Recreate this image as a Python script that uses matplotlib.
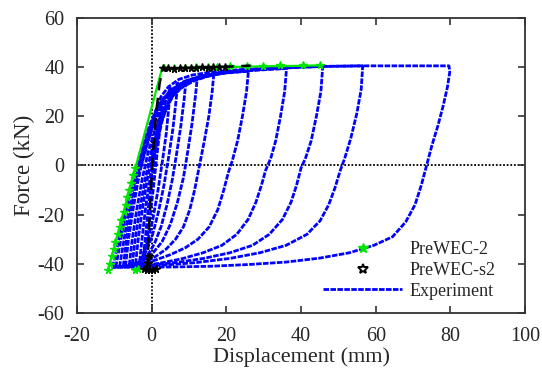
import matplotlib
matplotlib.use("Agg")
import matplotlib.pyplot as plt
from matplotlib.lines import Line2D

# ---- experiment: one list pair per cycle (reload from previous tip, then unload) ----
cyc01_x = [0.0, 1.0, 2.0, 2.8, 2.3, 1.4, 0.4, -0.6, -1.5, -2.2]
cyc01_y = [0.0, 10.0, 20.0, 26.0, 16.0, 4.0, -10.0, -23.0, -33.0, -37.0]
cyc02_x = [-2.2, -1.6, -0.8, 0.2, 1.3, 2.6, 3.8, 5.0, 4.6, 3.9, 2.9, 1.7, 0.3, -1.1, -2.4, -3.2]
cyc02_y = [-37.0, -28.0, -16.0, -4.0, 8.0, 19.0, 27.0, 31.5, 24.0, 13.0, 2.0, -10.0, -22.0, -31.0, -37.0, -39.0]
cyc03_x = [-3.2, -2.6, -1.6, -0.3, 1.2, 2.8, 4.5, 6.0, 7.0, 6.5, 5.7, 4.6, 3.3, 1.8, 0.1, -1.8, -3.6, -4.3]
cyc03_y = [-39.0, -30.0, -17.0, -4.0, 8.0, 18.0, 26.0, 31.0, 33.5, 26.0, 15.0, 4.0, -8.0, -19.0, -29.0, -36.0, -39.5, -40.0]
cyc04_x = [-4.3, -3.6, -2.5, -1.1, 0.6, 2.4, 4.4, 6.5, 8.2, 9.2,
           8.7, 7.8, 6.7, 5.5, 4.1, 2.5, 0.7, -1.3, -3.5, -5.2]
cyc04_y = [-40.0, -30.0, -18.0, -5.0, 7.0, 17.0, 25.0, 30.5, 33.5, 34.5,
           27.0, 16.0, 5.0, -6.0, -16.0, -25.0, -32.0, -37.0, -39.8, -40.3]
cyc05_x = [-5.2, -4.4, -3.2, -1.8, -0.2, 1.7, 3.8, 6.0, 8.5, 10.8, 12.2,
           11.7, 10.8, 9.7, 8.5, 6.9, 5.0, 2.8, 0.4, -2.1, -4.6, -6.0]
cyc05_y = [-40.3, -30.0, -18.0, -6.0, 5.0, 15.0, 23.0, 29.0, 32.5, 34.5, 35.5,
           28.0, 17.0, 6.0, -5.0, -15.0, -24.0, -31.0, -35.5, -38.5, -40.2, -40.6]
cyc06_x = [-6.0, -5.2, -4.0, -2.6, -1.0, 0.8, 2.9, 5.4, 8.4, 11.5, 14.5, 16.6,
           16.2, 15.3, 14.1, 12.8, 11.5, 10.2, 8.5, 6.4, 3.9, 1.1, -2.0, -5.0, -7.0]
cyc06_y = [-40.6, -30.0, -18.0, -6.0, 5.0, 14.0, 22.0, 28.0, 32.0, 34.5, 36.0, 36.8,
           30.0, 20.0, 10.0, 0.0, -10.0, -18.0, -25.0, -30.0, -34.0, -37.0, -39.5, -40.8, -41.0]
cyc07_x = [-7.0, -6.2, -5.0, -3.6, -2.0, -0.2, 1.9, 4.4, 7.4, 11.0, 15.0, 20.0, 25.9,
           25.4, 24.3, 23.0, 21.6, 20.5, 19.3, 17.7, 15.4, 12.4, 9.0, 5.0, 1.0, -3.0, -7.6]
cyc07_y = [-41.0, -30.0, -18.0, -6.0, 5.0, 14.0, 22.0, 28.0, 32.0, 34.6, 36.4, 37.6, 38.3,
           30.0, 20.0, 10.0, 2.0, -3.0, -10.0, -18.0, -25.0, -30.0, -33.5, -36.3, -38.5, -40.2, -41.0]
cyc08_x = [-7.6, -6.7, -5.5, -4.1, -2.5, -0.7, 1.4, 3.9, 7.0, 10.5, 15.0, 20.0, 26.0, 31.0, 36.1,
           35.6, 34.5, 33.2, 31.9, 30.5, 29.4, 27.9, 25.8, 22.8, 18.8, 13.8, 8.0, 2.0, -3.0, -8.6]
cyc08_y = [-41.0, -30.0, -18.0, -6.0, 5.0, 14.0, 22.0, 28.0, 32.0, 34.8, 36.6, 37.7, 38.5, 39.0, 39.4,
           30.0, 20.0, 10.0, 3.0, -2.0, -8.0, -15.0, -22.0, -28.0, -32.5, -35.5, -38.0, -39.8, -40.8, -41.2]
cyc09_x = [-8.6, -7.6, -6.4, -5.0, -3.3, -1.5, 0.6, 3.0, 6.0, 9.5, 14.0, 19.0, 25.0, 31.0, 38.0, 45.8,
           45.3, 44.1, 42.7, 41.2, 40.0, 38.8, 37.3, 35.0, 31.5, 27.0, 21.0, 14.0, 7.0, 0.0, -5.0, -9.6]
cyc09_y = [-41.2, -32.0, -21.0, -10.0, 1.0, 11.0, 20.0, 27.0, 31.5, 34.6, 36.6, 37.8, 38.6, 39.2, 39.8, 40.3,
           30.0, 20.0, 10.0, 3.0, -1.0, -8.0, -15.0, -22.0, -28.0, -32.5, -35.5, -37.8, -39.4, -40.5, -41.0, -41.3]
cyc10_x = [-9.6, -8.6, -7.4, -6.0, -4.2, -2.4, -0.4, 2.0, 5.0, 8.5, 13.0, 18.0, 24.0, 31.0, 40.0, 48.0, 56.5,
           56.1, 54.9, 53.3, 51.7, 50.5, 49.1, 47.4, 45.1, 41.6, 36.0, 29.0, 21.0, 12.0, 3.0, -4.0, -10.3]
cyc10_y = [-41.3, -33.0, -23.0, -12.0, -2.0, 8.0, 17.0, 25.0, 30.5, 34.0, 36.3, 37.7, 38.7, 39.4, 40.0, 40.3, 40.5,
           31.0, 21.0, 11.0, 3.0, -2.0, -9.0, -16.0, -22.5, -28.0, -32.5, -35.5, -37.8, -39.5, -40.6, -41.2, -41.4]
cyc11_x = [-10.5, -9.5, -8.5, -7.4, -6.3, -4.6, -2.8, -1.2, 0.0, 1.0, 2.5, 4.5, 7.3, 11.0, 16.0, 23.0,
           30.0, 38.0, 47.0, 57.0, 68.0, 79.6,
           79.8, 79.2, 78.0, 76.6, 75.0, 73.6, 72.2, 70.5, 68.0, 64.5, 59.5, 53.0, 45.0, 36.0, 26.0,
           16.0, 6.0, -3.0, -10.8]
cyc11_y = [-41.4, -35.0, -28.0, -21.0, -14.0, -6.0, 0.0, 8.0, 15.0, 22.0, 28.0, 32.0, 35.0, 36.8, 38.0, 38.9,
           39.5, 40.0, 40.3, 40.5, 40.5, 40.5,
           38.0, 32.0, 24.0, 16.0, 8.0, 0.0, -8.0, -16.0, -23.0, -29.0, -32.5, -35.5, -37.7, -39.3, -40.3,
           -41.0, -41.3, -41.4, -41.4]

# ---- PreWEC-2 (green) ----
green_line_x = [-11.7, 2.7, 3.5, 10.0, 20.0, 30.0, 40.0, 45.0]
green_line_y = [-42.6, 39.0, 39.4, 39.7, 40.0, 40.3, 40.5, 40.7]
green_mark_x = [-11.7, -11.2, -10.7, -10.2, -9.7, -9.1, -8.6, -8.1, -7.5, -7.0, -6.5, -6.0,
                -5.4, -4.9, -4.4, -4.5, -3.6, 3.2, 6.0, 9.0, 12.0, 15.0, 17.5,
                20.9, 25.5, 29.8, 34.4, 40.5, 45.0]
green_mark_y = [-42.6, -40.0, -37.0, -34.0, -31.0, -28.0, -25.0, -22.0, -19.0, -16.0, -13.0, -10.0,
                -7.0, -4.0, -1.0, -42.6, -42.2, 39.6, 39.8, 39.8, 40.0, 40.0, 40.2,
                40.4, 40.6, 40.6, 40.8, 40.8, 40.9]

# ---- PreWEC-s2 (black) ----
black_x = [-1.3, -1.0, -0.7, -0.3, 0.2, 0.8, 1.4, 2.1, 2.8, 3.5, 6.0, 9.0, 12.0, 15.0, 18.0, 21.0, 24.0, 26.5]
black_y = [-42.5, -36.0, -25.0, -12.0, 2.0, 14.0, 24.0, 33.0, 38.8, 39.3, 39.5, 39.6, 39.7, 39.8, 40.0, 40.2, 40.4, 40.6]
black_mark_x = [-2.0, -1.2, -0.4, 0.4, 1.2, -1.0, -0.8, 3.0, 4.5, 6.0, 7.5, 9.0, 10.5, 12.0,
                13.5, 15.0, 16.5, 18.0, 19.5]
black_mark_y = [-42.3, -42.6, -42.4, -42.6, -42.3, -39.5, -37.0, 39.5, 39.6, 39.4, 39.7, 39.5, 39.8, 39.6,
                39.9, 39.7, 40.0, 39.9, 40.1]

EXP_X = [cyc01_x, cyc02_x, cyc03_x, cyc04_x, cyc05_x, cyc06_x, cyc07_x, cyc08_x, cyc09_x, cyc10_x, cyc11_x]
EXP_Y = [cyc01_y, cyc02_y, cyc03_y, cyc04_y, cyc05_y, cyc06_y, cyc07_y, cyc08_y, cyc09_y, cyc10_y, cyc11_y]

plt.rcParams["font.family"] = ["Liberation Serif", "DejaVu Serif"]
plt.rcParams["axes.unicode_minus"] = False
TXT = "#262626"
BLUE = "#0000ff"
GREEN = "#00e600"
EXP_LS = (0, (2, 0.5))

fig = plt.figure(figsize=(5.42, 3.73), dpi=100)
ax = fig.add_axes([0.142, 0.161, 0.827, 0.791])

ax.axhline(0, color="black", linestyle=(0, (1, 1)), linewidth=1.3, zorder=1)
ax.axvline(0, color="black", linestyle=(0, (1, 1)), linewidth=1.3, zorder=1)

for xs, ys in zip(EXP_X, EXP_Y):
    ax.plot(xs, ys, color=BLUE, linestyle=EXP_LS, linewidth=2.0, zorder=2)

ax.plot(green_line_x, green_line_y, color=GREEN, linewidth=1.6, zorder=3)
ax.plot(green_mark_x, green_mark_y, linestyle="none", marker="*", markersize=5.5,
        color=GREEN, zorder=3)
ax.plot(black_x, black_y, color="black", linestyle=(0, (5, 3)), linewidth=1.8, zorder=4)
ax.plot(black_mark_x, black_mark_y, linestyle="none", marker="*", markersize=5.5,
        color="black", zorder=4)

ax.set_xlim(-20, 100)
ax.set_ylim(-60, 60)
ax.set_xticks(range(-20, 101, 20))
ax.set_yticks(range(-60, 61, 20))
ax.tick_params(direction="in", length=5, width=1.2, top=True, right=True,
               labelsize=14.5, labelcolor=TXT, colors="#333333")
ax.tick_params(axis="x", pad=10)
ax.tick_params(axis="y", pad=9)
for s in ax.spines.values():
    s.set_linewidth(1.3)
    s.set_color("#333333")
ax.set_xlabel("Displacement (mm)", fontsize=16, color=TXT, labelpad=1)
ax.set_ylabel("Force (kN)", fontsize=16.5, color=TXT, labelpad=2)

handles = [
    Line2D([], [], linestyle="none", marker="*", markersize=7, color=GREEN),
    Line2D([], [], linestyle="none", marker="*", markersize=7, markerfacecolor="white",
           markeredgecolor="black", markeredgewidth=1.4),
    Line2D([], [], color=BLUE, linestyle=EXP_LS, linewidth=2.0),
]
leg = ax.legend(handles, ["PreWEC-2", "PreWEC-s2", "Experiment"], loc="lower right",
                bbox_to_anchor=(0.97, -0.01), frameon=False, fontsize=13,
                handlelength=4.4, labelspacing=0.2, handletextpad=0.4)
for t in leg.get_texts():
    t.set_color(TXT)

fig.savefig("out.png", dpi=100)
